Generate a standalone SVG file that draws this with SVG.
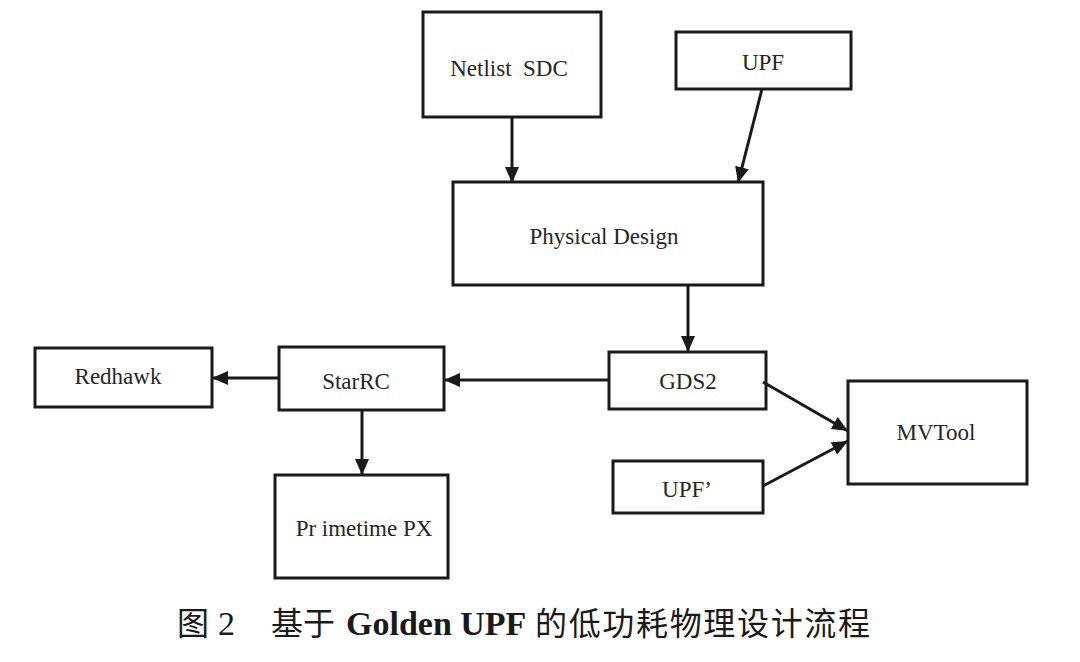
<svg xmlns="http://www.w3.org/2000/svg" width="1080" height="662" viewBox="0 0 1080 662">
<style>
.box{fill:#fff;stroke:#1a1a1a;stroke-width:3}
.lbl{font-family:"Liberation Serif","DejaVu Serif",serif;font-size:23px;fill:#262626;text-anchor:middle;dominant-baseline:central}
.edge{stroke:#1a1a1a;stroke-width:3;fill:none}
.cap{font-family:"Noto Sans CJK SC",sans-serif;font-size:32px;fill:#1a1a1a}
.capn{font-family:"Liberation Serif",serif;font-size:34px;fill:#1a1a1a}
.capb{font-family:"Liberation Serif",serif;font-size:34px;font-weight:bold;fill:#1a1a1a}
</style>
<defs>
<marker id="ah" viewBox="0 0 16 14" refX="16" refY="7" markerWidth="16" markerHeight="14" markerUnits="userSpaceOnUse" orient="auto">
<path d="M0,0 L16,7 L0,14 z" fill="#1a1a1a"/>
</marker>
</defs>
<rect width="1080" height="662" fill="#fff"/>
<g id="netlist"><rect class="box" x="423" y="12" width="178" height="105"/><text class="lbl" x="509" y="68" xml:space="preserve">Netlist  SDC</text></g>
<g id="upf"><rect class="box" x="676" y="32" width="175" height="57"/><text class="lbl" x="763" y="62">UPF</text></g>
<g id="pd"><rect class="box" x="453" y="182" width="310" height="103"/><text class="lbl" x="604" y="236">Physical Design</text></g>
<g id="gds2"><rect class="box" x="609" y="352" width="157" height="57"/><text class="lbl" x="688" y="381">GDS2</text></g>
<g id="starrc"><rect class="box" x="279" y="347" width="165" height="63"/><text class="lbl" x="356" y="381">StarRC</text></g>
<g id="redhawk"><rect class="box" x="35" y="348" width="177" height="59"/><text class="lbl" x="118" y="376">Redhawk</text></g>
<g id="primetime"><rect class="box" x="275" y="475" width="173" height="103"/><text class="lbl" x="364" y="528">Pr imetime PX</text></g>
<g id="mvtool"><rect class="box" x="848" y="381" width="179" height="103"/><text class="lbl" x="936" y="432">MVTool</text></g>
<g id="upf2"><rect class="box" x="613" y="461" width="150" height="52"/><text class="lbl" x="687" y="489">UPF’</text></g>
<g id="connectors">
<line class="edge" x1="512" y1="117" x2="512" y2="183" marker-end="url(#ah)"/>
<line class="edge" x1="762" y1="89" x2="738" y2="183" marker-end="url(#ah)"/>
<line class="edge" x1="688" y1="285" x2="688" y2="352" marker-end="url(#ah)"/>
<line class="edge" x1="609" y1="380" x2="444" y2="380" marker-end="url(#ah)"/>
<line class="edge" x1="279" y1="378" x2="212" y2="378" marker-end="url(#ah)"/>
<line class="edge" x1="362" y1="410" x2="362" y2="475" marker-end="url(#ah)"/>
<line class="edge" x1="763" y1="382" x2="848" y2="431" marker-end="url(#ah)"/>
<line class="edge" x1="763" y1="486" x2="848" y2="441" marker-end="url(#ah)"/>
</g>
<g id="caption">
<text class="cap" x="177" y="635">图</text>
<text class="capn" x="218" y="635">2</text>
<text class="cap" x="271" y="635">基于</text>
<text class="capb" x="346" y="635">Golden UPF</text>
<text class="cap" x="535" y="635" textLength="335" lengthAdjust="spacing">的低功耗物理设计流程</text>
</g>
</svg>
